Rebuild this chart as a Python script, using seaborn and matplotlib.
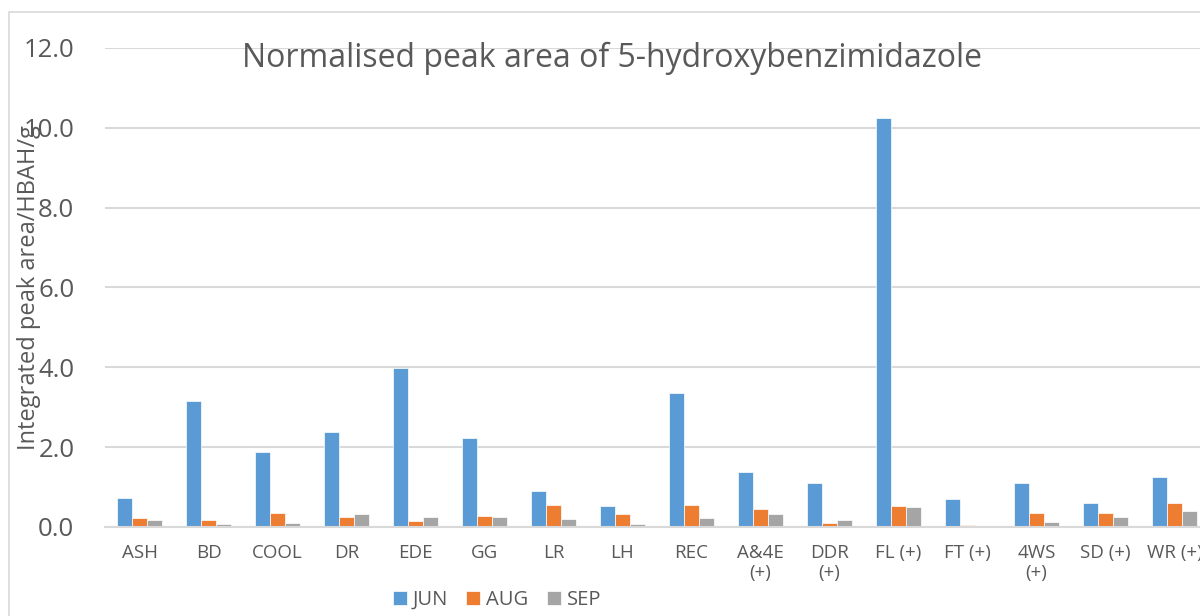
import matplotlib
matplotlib.use("Agg")
import matplotlib.pyplot as plt
import matplotlib.patches as patches
import seaborn as sns
import pandas as pd

# data
sites = ["ASH", "BD", "COOL", "DR", "EDE", "GG", "LR", "LH", "REC",
         "A&4E\n(+)", "DDR\n(+)", "FL (+)", "FT (+)", "4WS\n(+)", "SD (+)", "WR (+)"]
jun = [0.73, 3.15, 1.88, 2.37, 3.99, 2.23, 0.90, 0.53, 3.35,
       1.38, 1.10, 10.24, 0.71, 1.09, 0.60, 1.26]
aug = [0.22, 0.17, 0.35, 0.25, 0.15, 0.27, 0.54, 0.33, 0.54,
       0.45, 0.10, 0.52, 0.04, 0.34, 0.34, 0.61]
sep = [0.17, 0.08, 0.10, 0.32, 0.24, 0.25, 0.21, 0.07, 0.22,
       0.32, 0.17, 0.50, 0.03, 0.12, 0.26, 0.39]
months = ["JUN", "AUG", "SEP"]
colors = ["#5B9BD5", "#ED7D31", "#A5A5A5"]

rows = []
for m, vals in zip(months, [jun, aug, sep]):
    for s, v in zip(sites, vals):
        rows.append({"site": s, "month": m, "value": v})
df = pd.DataFrame(rows)

sns.set_style("white")
plt.rcParams["font.family"] = ["Open Sans", "DejaVu Sans"]
grey = "#595959"

fig = plt.figure(figsize=(12, 6.16), dpi=100)
ax = fig.add_axes([0.0875, 0.1445, 0.92, 0.7776])

sns.barplot(data=df, x="site", y="value", hue="month", order=sites,
            hue_order=months, palette=colors, width=0.64, saturation=1,
            edgecolor="white", linewidth=0.5, ax=ax, legend=True)

ax.set_ylim(0, 12)
ax.set_yticks(range(0, 13, 2))
ax.set_yticklabels([f"{v:.1f}" for v in range(0, 13, 2)])
ax.yaxis.grid(True, color="#D9D9D9", linewidth=1.5)
ax.set_axisbelow(True)
for sp in ["top", "right", "left"]:
    ax.spines[sp].set_visible(False)
ax.spines["bottom"].set_color("#D9D9D9")
ax.spines["bottom"].set_linewidth(1.5)
ax.tick_params(axis="y", labelsize=18.5, labelcolor=grey, length=0, pad=22)
ax.tick_params(axis="x", labelsize=13.5, labelcolor=grey, length=0, pad=12)
ax.set_xlabel("")
ax.set_ylabel("Integrated peak area/HBAH/g", fontsize=17, color=grey)
ax.yaxis.set_label_coords(-0.058, 0.5)

fig.text(0.51, 0.905, "Normalised peak area of 5-hydroxybenzimidazole",
         ha="center", va="center", fontsize=23, color=grey)

ax.legend(loc="center", bbox_to_anchor=(0.355, -0.152), ncol=3, frameon=False,
          fontsize=14.5, labelcolor=grey, handlelength=0.7, handleheight=0.7,
          handletextpad=0.3, columnspacing=0.9, borderpad=0)

fig.patches.append(patches.Rectangle((0.0075, -0.05), 1.1, 1.03, transform=fig.transFigure,
                                     fill=False, edgecolor="#D9D9D9", linewidth=1.2))

fig.savefig("out.png", dpi=100)
